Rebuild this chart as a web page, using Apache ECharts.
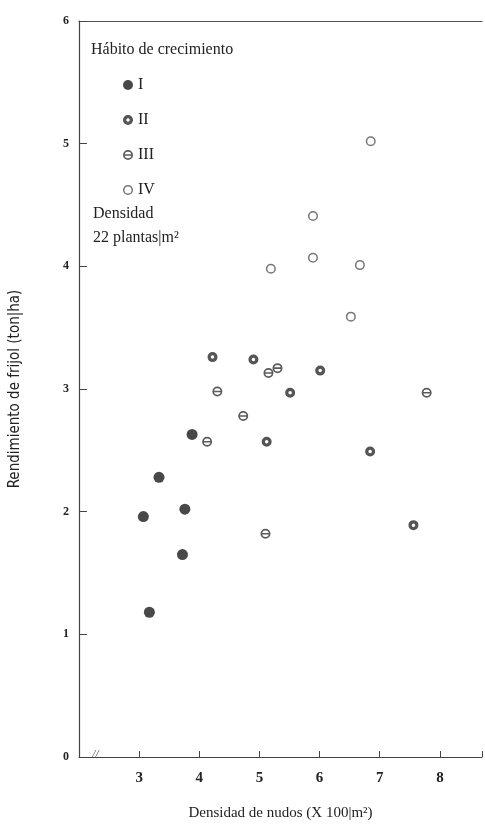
<!DOCTYPE html>
<html>
<head>
<meta charset="utf-8">
<script src="https://cdn.jsdelivr.net/npm/echarts@6/dist/echarts.min.js"></script>
<style>
  html, body { margin: 0; padding: 0; background: #fff; }
  #chart { width: 485px; height: 827px; }
</style>
</head>
<body>
<div id="chart"></div>
<script>
// valores: [densidad de nudos, rendimiento]
var habitoI = [[3.07, 1.96], [3.33, 2.28], [3.17, 1.18], [3.76, 2.02], [3.72, 1.65], [3.88, 2.63]]
var habitoII = [[4.22, 3.26], [4.90, 3.24], [5.12, 2.57], [5.51, 2.97], [6.01, 3.15], [6.84, 2.49], [7.56, 1.89]]
var habitoIII = [[4.30, 2.98], [4.13, 2.57], [4.73, 2.78], [5.15, 3.13], [5.30, 3.17], [5.10, 1.82], [7.78, 2.97]]
var habitoIV = [[5.19, 3.98], [5.89, 4.41], [5.89, 4.07], [6.67, 4.01], [6.52, 3.59], [6.85, 5.02]]
var seriesNames = ['I', 'II', 'III', 'IV']
var xTicks = [3, 4, 5, 6, 7, 8]

// simbolos: anillo con hueco (regla nonzero)
var circ = function (r, cw) {
  var s = cw ? 1 : 0
  return 'M0,' + (-r) + ' A' + r + ',' + r + ' 0 1,' + s + ' 0,' + r + ' A' + r + ',' + r + ' 0 1,' + s + ' 0,' + (-r) + ' Z '
}
var symII = 'path://' + circ(10, true) + circ(3.5, false)
var symIII = 'path://' + circ(10, true) + circ(6.5, false) + 'M-7,-1.6 L7,-1.6 L7,1.6 L-7,1.6 Z'
var symIV = 'path://' + circ(10, true) + circ(7, false)

var chart = echarts.init(document.getElementById('chart'))
var serif = '"Liberation Serif", "DejaVu Serif", serif'

var option = {
  animation: false,
  backgroundColor: '#fff',
  title: [
    {
      text: 'Hábito de crecimiento',
      left: 86, top: 37,
      textStyle: { fontFamily: serif, fontWeight: 'normal', fontSize: 16, color: '#222' }
    },
    {
      text: 'Densidad\n22 plantas|m²',
      left: 88, top: 197,
      textStyle: { fontFamily: serif, fontWeight: 'normal', fontSize: 16, color: '#222', lineHeight: 24 }
    }
  ],
  legend: {
    orient: 'vertical',
    left: 118, top: 72,
    itemWidth: 10, itemHeight: 10,
    itemGap: 19,
    data: seriesNames,
    textStyle: { fontFamily: serif, fontSize: 16, color: '#222' }
  },
  grid: { left: 79, right: 0, top: 21, bottom: 70 },
  xAxis: [
    {
      type: 'value',
      min: 2, max: 8.7,
      interval: 1,
      name: 'Densidad de nudos (X 100|m²)',
      nameLocation: 'middle',
      nameGap: 49,
      nameTextStyle: { fontFamily: serif, fontSize: 15, color: '#222' },
      axisLine: { lineStyle: { color: '#444', width: 1.2 } },
      axisTick: { inside: true, length: 6, lineStyle: { color: '#444' } },
      axisLabel: {
        fontFamily: serif, fontSize: 15, fontWeight: 'bold', color: '#222', margin: 14,
        formatter: function (v) { return xTicks.indexOf(v) >= 0 ? v : '' }
      },
      splitLine: { show: false }
    },
    {
      type: 'value',
      position: 'top',
      min: 2, max: 8.7,
      axisLine: { show: true, lineStyle: { color: '#555', width: 1.2 } },
      axisTick: { show: false },
      axisLabel: { show: false },
      splitLine: { show: false }
    }
  ],
  yAxis: {
    type: 'value',
    min: 0, max: 6,
    interval: 1,
    name: 'Rendimiento de frijol (ton|ha)',
    nameLocation: 'middle',
    nameGap: 56,
    nameTextStyle: { fontFamily: '"Liberation Sans Narrow", "DejaVu Sans Condensed", sans-serif', fontSize: 15, color: '#222' },
    axisLine: { show: true, lineStyle: { color: '#444', width: 1.2 } },
    axisTick: { show: true, inside: true, length: 8, lineStyle: { color: '#444' } },
    axisLabel: { fontFamily: serif, fontSize: 12, fontWeight: 'bold', color: '#222', margin: 10 },
    splitLine: { show: false }
  },
  graphic: [
    {
      type: 'text',
      left: 92, top: 749,
      style: { text: '//', font: 'italic 12px ' + serif, fill: '#555' }
    }
  ],
  series: [
    {
      name: 'I', type: 'scatter', data: habitoI,
      symbol: 'circle', symbolSize: 11,
      itemStyle: { color: '#1a1a1a' }
    },
    {
      name: 'II', type: 'scatter', data: habitoII,
      symbol: symII, symbolSize: 10,
      itemStyle: { color: '#2a2a2a' }
    },
    {
      name: 'III', type: 'scatter', data: habitoIII,
      symbol: symIII, symbolSize: 10,
      itemStyle: { color: '#333' }
    },
    {
      name: 'IV', type: 'scatter', data: habitoIV,
      symbol: symIV, symbolSize: 10,
      itemStyle: { color: '#555' }
    }
  ]
}

chart.setOption(option)
</script>
</body>
</html>
